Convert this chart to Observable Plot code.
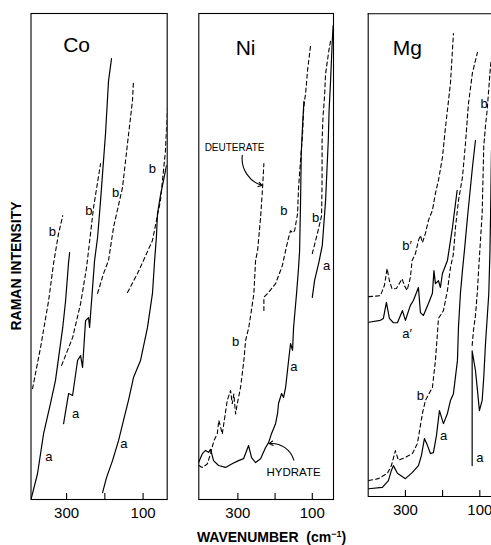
<!DOCTYPE html>
<html><head><meta charset="utf-8">
<script src="https://cdn.jsdelivr.net/npm/d3@7"></script>
<script src="https://cdn.jsdelivr.net/npm/@observablehq/plot@0.6"></script>
<style>
html,body{margin:0;padding:0;background:#fff;overflow:hidden;}
#wrap{position:relative;width:491px;height:545px;font-family:"Liberation Sans",Arial,sans-serif;color:#000;}
#wrap svg{position:absolute;left:0;top:0;}
.ttl{position:absolute;white-space:nowrap;font-weight:bold;font-size:14px;}
</style></head><body><div id="wrap"></div>
<script>
// ---------- data: [wavenumber (cm-1), relative intensity 0-100] ----------
const wnTicks = [300, 200, 100];
const tickLabels = ["300", "", "100"];

// Co panel
const coA1 = [[393,0],[376,5.3],[360,13.6],[342,19.8],[329,24.5],[310,35.4],[302.6,40.9],[294.8,48.8],[292,50.8]];
const coB1 = [[389,22.8],[368,31.3],[347,40.9],[334,48.6],[321,54.7],[310,58.4]];
const coA2 = [[307.8,15.6],[294.8,21.8],[284.3,21.4],[271.3,28.6],[263.4,29.6],[258.2,27.2],[250.4,36.8],[242.5,37.4],[239.9,35.4],[232.1,43.6],[226.8,49.2],[219,53.9],[211.2,61.5],[198.2,75.3],[190.3,86.2],[182.5,90.7]];
const coB2 = [[313,27.6],[284.3,33.3],[263.4,40.3],[247.8,47.7],[229.5,60.1],[211.2,69.1]];
const coB3 = [[219,42.4],[203.4,46.5],[190.3,49.2],[177.3,56],[153.8,64.2],[140.7,73.3],[127.7,82.1],[125.1,86.2]];
const coB4 = [[140.7,42.6],[114.6,46.5],[98.9,49.2],[75.5,53.3],[54.6,61.5],[41.5,71.8],[36.3,80.7]];
const coA3 = [[206,1.4],[195.6,4.5],[179.9,8],[164.2,12.1],[151.2,16.3],[138.2,20.4],[125.1,25.1],[106.8,28.6],[88.5,35.4],[75.5,42.4],[70.2,48.8],[65,54.3],[62.4,58.8],[54.6,62.6],[46.7,65.6],[38.9,68.7]];
const coLabels = [
  {t:"a", x:346, y:8.7},{t:"b", x:337, y:55},{t:"a", x:276.5, y:17.6},{t:"b", x:242, y:59.3},
  {t:"b", x:172, y:63.1},{t:"b", x:76, y:68},{t:"a", x:150.4, y:11.5}
];

// Ni panel
const niHydrate = [[405.6,7.6],[394.9,9.5],[386.8,10.1],[378.8,9.7],[373.4,10.3],[365.3,8],[351.9,7],[333.1,6.6],[314.2,7.4],[298.1,8],[284.7,8.4],[271.2,11.1],[263.2,8.6],[252.4,7.6],[239,8.4],[225.5,10.7],[217.5,11.7],[209.4,13.6],[198.7,15.6],[193.3,17.7],[190.6,19.8],[182.5,21.8],[177.2,21],[171.8,23],[163.7,28.6],[158.4,32.1],[153,30.7],[150.3,35.4],[142.3,42.4],[136.9,47.7],[134.1,51.2],[131.5,61.5],[129.6,71.4],[126.1,77],[122.6,81.9]];
const niDeuterate = [[404.8,7],[395.7,6.6],[382.3,7.3],[373.4,9.4],[364.5,12.1],[355.4,13.5],[351.1,16.3],[341.9,13.5],[328.5,20.4],[319.6,22.4],[315.1,19.7],[310.8,21.7],[306.2,17.6],[301.6,19.7],[292.7,23.1],[283.9,28.6],[279.3,32.7],[270.4,35.5],[257,42.3],[252.4,49.2],[247,51.2],[239,58],[233.6,64.2],[230.1,69.1]];
const niB1 = [[230.1,38.9],[230.1,41.6],[216.7,42.7],[198.7,44.4],[180.6,48.1],[171.8,51.2],[163.7,53.9],[158.4,55.3],[153,54.9],[147.6,55.3],[139.6,58.8],[136.9,64.2],[131.5,69.8],[126.1,75.3],[123.4,80],[120.7,82.1],[118,83.5],[112.7,88.3],[104.6,93.4]];
const niB2 = [[100,50.6],[85.8,54.9],[75,58.4],[73.7,65.6],[73.7,73.9],[71,79],[66.9,83.1],[64.3,87.6],[55.4,92.4],[50.8,94.4]];
const niA2 = [[100,41.6],[93.8,45.1],[82.3,48.8],[73.1,52.3],[64.3,61.5],[57,73.9],[54.9,80],[50.8,86.2],[46.3,94.4],[44,97.5]];
const niLabels = [
  {t:"b", x:306.2, y:32.4},{t:"a", x:149.5, y:27.2},{t:"b", x:176.4, y:59.5},
  {t:"b", x:91, y:58},{t:"a", x:61.6, y:48.1}
];
const niNotes = [{t:"DEUTERATE", x:308.9, y:72.4, size:10},{t:"HYDRATE", x:150.3, y:5.6, size:11.5}];
const niArrows = [
  {x1:288.2, y1:70.8, x2:234.4, y2:64.6},
  {x1:149.5, y1:8.1, x2:216.0, y2:11.5}
];

// Mg panel
const mgB1 = [[398.7,41.4],[367.3,41.6],[356.5,43.7],[349.2,47.2],[343,44.7],[335.8,43],[324.2,43.1],[308.9,45.1],[302.7,43.7],[295.4,42.7],[286.6,45.4],[282,48.9],[273.1,50.3],[265,53],[259.6,54.1],[254.3,52.6],[246.2,54.5],[238.1,57.2],[227.4,59.3],[219.3,62.8],[211.2,65.5],[200.5,70.2],[192.4,76.4],[178.9,85.6],[170.9,95.9]];
const mgA1 = [[398.7,36.1],[367.3,36.5],[359.2,36.9],[351.1,40.2],[343,36.9],[332.3,36],[321.5,36],[308.1,38.5],[300,36.5],[286.6,39.6],[278.5,40.6],[265,43.3],[259.6,38.1],[251.6,37.5],[238.1,40],[227.4,42.1],[223.3,46.8],[219.3,44.1],[211.2,44.7],[205.9,43.3],[200.5,46.2],[187,48.9],[173.6,55.7],[161,63.4]];
const mgB2 = [[398.7,3.3],[372.6,3.7],[348.4,4.8],[337.7,6.4],[326.9,9.5],[318.8,7.5],[300,8.1],[281.2,8.9],[267.7,11],[254.3,17.2],[246.2,19.9],[227.4,22.6],[219.3,28.2],[213.9,33.8],[211.2,36.9],[197.8,38.5],[187,42.7],[178.9,47.4],[170.9,50.3],[165.5,55.7],[157.4,61.3],[146.7,66.1],[138.6,73.1],[130.5,81.4],[119.8,87.8],[106.3,92]];
const mgA2 = [[398.7,1.6],[361.9,1.9],[345.7,3.3],[337.7,5.4],[332.3,6.4],[321.5,4.8],[300,3.7],[281.2,5],[265,6.4],[256.9,8.5],[248.9,12],[240.8,10.6],[232.8,8.9],[224.7,9.1],[216.6,12.6],[208.5,17.8],[197.8,15.1],[187,17.2],[178.9,19.9],[170.9,21.3],[160.1,28.2],[157.4,35],[152.1,42.1],[146.7,46.8],[141.3,51],[133.2,57.8],[119.8,68.2],[111.7,73.8]];
const mgA3 = [[120.6,6.4],[120.6,30.2],[111.7,26.1],[107.1,22.6],[101.1,17.8],[93.7,19.9],[89.4,24.7],[84.8,31.6],[75.9,42],[72.7,51],[70.5,61.3],[68.7,71.7]];
const mgB3 = [[120.6,31.3],[117.1,34.4],[111.7,37.5],[106.3,42.7],[102.8,47.5],[98.3,53],[93.7,58.6],[91.6,65.4],[89.4,72.5],[84.8,76.8],[80.3,80],[71.4,89.1],[66,92.4]];
const mgLabels = [
  {t:"b\u2032", x:295.4, y:52},{t:"a\u2032", x:295.4, y:33.7},{t:"b", x:259.6, y:20.9},
  {t:"a", x:197, y:12.6},{t:"b", x:88.6, y:81.4},{t:"a", x:100, y:8.1}
];

const panelNames = [
  {t:"Co", x:273.9, y:93.4},
  {t:"Ni", x:279.3, y:92.8},
  {t:"Mg", x:294.6, y:92.8}
];

// ---------- drawing ----------
const FONT = "'Liberation Sans', Arial, sans-serif";
const px = d => d[0], py = d => d[1];
const solid = data => Plot.line(data, {x: px, y: py, stroke: "black", strokeWidth: 1.2, clip: true});
const dashed = data => Plot.line(data, {x: px, y: py, stroke: "black", strokeWidth: 1.1, strokeDasharray: "4,3", clip: true});

function panel({domain, mL, mR, mT, mB, tickLen, curves, labels, name, fullFrame, extra = []}) {
  const marks = [];
  if (fullFrame) marks.push(Plot.frame({stroke: "black", strokeWidth: 1.1}));
  else marks.push(Plot.ruleX([domain[0]], {stroke: "black", strokeWidth: 1.1}), Plot.ruleY([0, 100], {stroke: "black", strokeWidth: 1.1}));
  marks.push(Plot.ruleX(wnTicks, {y1: 0, y2: tickLen, stroke: "black", strokeWidth: 1.1}));
  marks.push(...curves);
  marks.push(Plot.text(labels, {x: "x", y: "y", text: "t", fontSize: 13, fill: "black"}));
  marks.push(Plot.text([name], {x: "x", y: "y", text: "t", fontSize: 21, fill: "black"}));
  marks.push(...extra);
  return Plot.plot({
    width: 491, height: 545,
    marginLeft: mL, marginRight: mR, marginTop: mT, marginBottom: mB,
    x: {domain, ticks: wnTicks, tickFormat: d => tickLabels[wnTicks.indexOf(d)], tickSize: 0, tickPadding: 8, label: null},
    y: {domain: [0, 100], axis: null},
    style: {background: "transparent", fontFamily: FONT, fontSize: "15px", color: "black"},
    marks
  });
}

const wrap = document.getElementById("wrap");

wrap.append(panel({
  domain: [393, 37], mL: 30.5, mR: 324.3, mT: 13, mB: 46, tickLen: 1.25, fullFrame: true,
  curves: [solid(coA1), dashed(coB1), solid(coA2), dashed(coB2), dashed(coB3), dashed(coB4), solid(coA3)],
  labels: coLabels, name: panelNames[0]
}));

wrap.append(panel({
  domain: [405, 43], mL: 198.3, mR: 158, mT: 13, mB: 46, tickLen: 1.25, fullFrame: true,
  curves: [solid(niHydrate), dashed(niDeuterate), dashed(niB1), dashed(niB2), solid(niA2)],
  labels: niLabels, name: panelNames[1],
  extra: [
    Plot.text(niNotes, {x: "x", y: "y", text: "t", fontSize: d => d.size, fill: "black"}),
    Plot.arrow(niArrows, {x1: "x1", y1: "y1", x2: "x2", y2: "y2", bend: -40, headLength: 6, stroke: "black", strokeWidth: 1.1})
  ]
}));

wrap.append(panel({
  domain: [400, 68.6], mL: 367.7, mR: 0, mT: 13.3, mB: 49, tickLen: 1.25, fullFrame: false,
  curves: [dashed(mgB1), solid(mgA1), dashed(mgB2), solid(mgA2), solid(mgA3), dashed(mgB3)],
  labels: mgLabels, name: panelNames[2]
}));

const yt = document.createElement("div");
yt.className = "ttl";
yt.textContent = "RAMAN INTENSITY";
yt.style.left = "15.8px"; yt.style.top = "266px";
yt.style.transform = "translate(-50%,-50%) rotate(-90deg)";
wrap.append(yt);

const xt = document.createElement("div");
xt.className = "ttl";
xt.innerHTML = "WAVENUMBER&nbsp; (cm<sup style='font-size:9px'>\u22121</sup>)";
xt.style.left = "271.5px"; xt.style.top = "537px";
xt.style.transform = "translate(-50%,-50%)";
wrap.append(xt);
</script></body></html>
